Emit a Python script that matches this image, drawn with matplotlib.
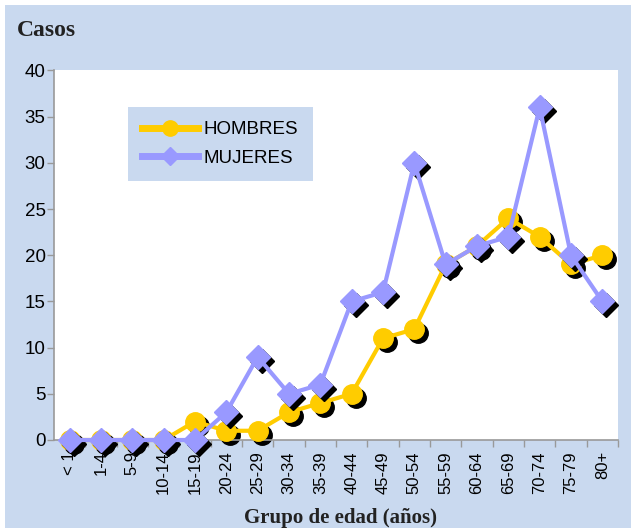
import matplotlib
matplotlib.use("Agg")
import matplotlib.pyplot as plt
import matplotlib.transforms as mtransforms
from matplotlib.patches import Rectangle
from matplotlib.lines import Line2D

# Casos por grupo de edad
grupos = ["< 1", "1-4", "5-9", "10-14", "15-19", "20-24", "25-29", "30-34",
          "35-39", "40-44", "45-49", "50-54", "55-59", "60-64", "65-69",
          "70-74", "75-79", "80+"]
hombres = [0, 0, 0, 0, 2, 1, 1, 3, 4, 5, 11, 12, 19, 21, 24, 22, 19, 20]
mujeres = [0, 0, 0, 0, 0, 3, 9, 5, 6, 15, 16, 30, 19, 21, 22, 36, 20, 15]

fondo = "#c9d9ef"
amarillo = "#ffcc00"
lila = "#9999ff"
gris = "#999999"

plt.rcParams["font.family"] = ["Liberation Sans", "DejaVu Sans"]

fig = plt.figure(figsize=(6.31, 5.31), dpi=100)
fig.patch.set_facecolor("white")
fig.patches.append(Rectangle((5 / 631, 3 / 531), 1, 1 - 8 / 531,
                             transform=fig.transFigure, facecolor=fondo,
                             edgecolor="none", zorder=-10))

ax = fig.add_axes([54 / 631, 1 - 440 / 531, 564 / 631, 369.5 / 531])
ax.set_facecolor("white")

x = list(range(len(grupos)))
sombra = mtransforms.offset_copy(ax.transData, fig=fig, x=4, y=-4, units="dots")

# sombras negras de los marcadores
ax.plot(x, hombres, linestyle="none", marker="o", markersize=14,
        color="black", transform=sombra, zorder=2, clip_on=False)
ax.plot(x, hombres, color=amarillo, linewidth=3, marker="o", markersize=14,
        zorder=3, clip_on=False)
ax.plot(x, mujeres, linestyle="none", marker="D", markersize=12.5,
        color="black", transform=sombra, zorder=4, clip_on=False)
ax.plot(x, mujeres, color=lila, linewidth=3, marker="D", markersize=12.5,
        zorder=5, clip_on=False)

ax.set_xlim(-0.5, len(grupos) - 0.5)
ax.set_ylim(0, 40)
ax.set_yticks(range(0, 41, 5))

# marcas en los limites de cada grupo, etiquetas en el centro
ax.set_xticks([i + 0.5 for i in x])
ax.set_xticklabels([])
ax.set_xticks(x, minor=True)
ax.set_xticklabels(grupos, minor=True, rotation=90, fontsize=12)
ax.tick_params(axis="x", which="minor", length=0, pad=8)
ax.tick_params(axis="x", which="major", length=5, color=gris, width=1)
ax.tick_params(axis="y", length=5, color=gris, width=1, labelsize=13.5, pad=1)

for s in ["top", "right"]:
    ax.spines[s].set_visible(False)
for s in ["left", "bottom"]:
    ax.spines[s].set_color(gris)
    ax.spines[s].set_linewidth(1.2)

fig.text(17 / 631, 1 - 30 / 531, "Casos", family="Liberation Serif",
         fontweight="bold", fontsize=17, va="center", ha="left", color="#222222")
fig.text(340 / 631, 1 - 518 / 531, "Grupo de edad (años)", family="Liberation Serif",
         fontweight="bold", fontsize=15, va="center", ha="center", color="#222222")

handles = [Line2D([], [], color=amarillo, linewidth=5, marker="o", markersize=11),
           Line2D([], [], color=lila, linewidth=5, marker="D", markersize=9)]
leg = ax.legend(handles, ["HOMBRES", "MUJERES"], loc="upper left",
                bbox_to_anchor=(128 / 631, 1 - 107 / 531),
                bbox_transform=fig.transFigure, fontsize=13.5, frameon=True,
                fancybox=False, handlelength=3.0, borderpad=0.75,
                labelspacing=0.6, handletextpad=0.3, borderaxespad=0)
leg.get_frame().set_facecolor(fondo)
leg.get_frame().set_edgecolor("none")
leg.get_frame().set_alpha(1)

fig.savefig("out.png", dpi=100, facecolor=fig.get_facecolor())
